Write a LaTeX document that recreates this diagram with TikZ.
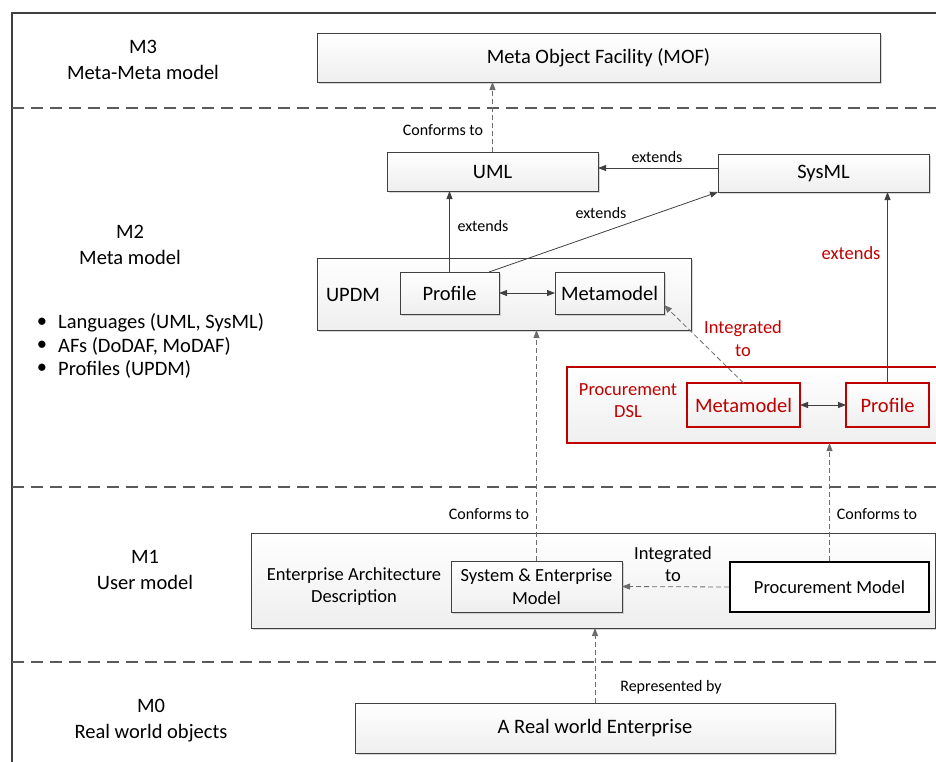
\documentclass[tikz,border=0pt]{standalone}
\usepackage{fontspec}
\setmainfont{Carlito}
\usetikzlibrary{arrows.meta,shadows}
\definecolor{lin}{HTML}{404040}
\definecolor{dred}{HTML}{C00000}
\definecolor{sep}{HTML}{5A5A5A}
\tikzset{
  big/.style={font=\fontsize{20.5}{26}\selectfont},
  mid/.style={font=\fontsize{18.5}{22.5}\selectfont},
  small/.style={font=\fontsize{16}{19}\selectfont},
  shade/.style={top color=white, bottom color=gray!13},
  box/.style={draw=lin, line width=0.9pt, shade, inner sep=0pt, outer sep=0pt,
    drop shadow={shadow xshift=1.6pt, shadow yshift=-1.6pt, fill=gray!70, opacity=0.45}},
  redbox/.style={draw=dred, line width=1.8pt, shade, inner sep=0pt, outer sep=0pt, text=dred},
  arr/.style={draw=lin, line width=0.8pt, -{Triangle[length=8pt,width=6pt]}},
  both/.style={draw=lin, line width=0.8pt, {Triangle[length=8pt,width=6pt]}-{Triangle[length=8pt,width=6pt]}},
  darr/.style={draw=gray!85!black, line width=0.8pt, dash pattern=on 5pt off 3pt, -{Triangle[length=8pt,width=6pt]}},
  layersep/.style={draw=sep, line width=1.8pt, dash pattern=on 12pt off 7pt}
}
\begin{document}
\begin{tikzpicture}[x=1pt,y=-1pt]
\useasboundingbox (0,0) rectangle (936,761);
\clip (0,0) rectangle (936,761);
% frame
\draw[lin, line width=1.5pt] (12,765) -- (12,13) -- (940,13);
% layer separators
\draw[layersep] (12,108) -- (940,108);
\draw[layersep] (12,487) -- (940,487);
\draw[layersep] (12,662) -- (940,662);
% layer labels
\node[big, align=center] (l3) at (143,60) {M3\\Meta-Meta model};
\node[big, align=center] (l2) at (130,245) {M2\\Meta model};
\node[big, align=center] (l1) at (145,570) {M1\\User model};
\node[big, align=center] (l0) at (151,721) {M0\\Real world objects};
% bullets
\node[big] (b1) at (42,323) {•};
\node[big] (b2) at (42,346) {•};
\node[big] (b3) at (42,369) {•};
\node[big, anchor=west, inner sep=0pt] (t1) at (58,323) {Languages (UML, SysML)};
\node[big, anchor=west, inner sep=0pt] (t2) at (58,346) {AFs (DoDAF, MoDAF)};
\node[big, anchor=west, inner sep=0pt] (t3) at (58,369) {Profiles (UPDM)};
% M3
\node[box, big, minimum width=563pt, minimum height=49pt] (mof) at (598.5,57.5) {Meta Object Facility (MOF)};
% M2
\node[box, big, minimum width=211pt, minimum height=39pt] (uml) at (492.5,171.5) {UML};
\node[box, big, minimum width=211pt, minimum height=38pt] (sysml) at (823.5,173) {SysML};
\node[box, minimum width=374pt, minimum height=72pt] (updm) at (504,294) {};
\node[big] (updmlab) at (353,295) {UPDM};
\node[box, big, minimum width=99pt, minimum height=42pt] (prof) at (449.5,293) {Profile};
\node[box, big, minimum width=109pt, minimum height=42pt] (meta) at (609.5,293) {Metamodel};
\node[redbox, line width=2.8pt, minimum width=380pt, minimum height=76pt] (dsl) at (757,405) {};
\node[mid, align=center, text=dred] (dsllab) at (628,400.5) {Procurement\\DSL};
\node[redbox, big, minimum width=113pt, minimum height=44pt] (rmeta) at (743.5,405) {Metamodel};
\node[redbox, big, minimum width=83pt, minimum height=44pt] (rprof) at (887.5,405) {Profile};
% M1
\node[box, minimum width=684pt, minimum height=95pt] (m1) at (593,580.5) {};
\node[mid, align=center] (ead) at (354,586.5) {Enterprise Architecture\\Description};
\node[box, mid, align=center, minimum width=171pt, minimum height=51pt] (se) at (536.5,586.5) {System \& Enterprise\\Model};
\node[draw=black, line width=1.8pt, fill=white, mid, inner sep=0pt, minimum width=199pt, minimum height=50pt] (pm) at (829.5,587) {Procurement Model};
% M0
\node[box, big, minimum width=480pt, minimum height=50pt] (rw) at (595,728) {A Real world Enterprise};
% connectors
\draw[darr] (uml.north) -- (uml.north |- mof.south);
\node[small] (c1) at (443,130) {Conforms to};
\coordinate (sw) at ([yshift=5pt]sysml.west);
\draw[arr] (sw) -- (sw -| uml.east);
\node[small] (e1) at (657,157) {extends};
\draw[arr] (prof.north) -- (prof.north |- uml.south);
\node[small] (e2) at (483,226) {extends};
\draw[arr] ([xshift=-10pt]prof.north east) -- (sysml.south west);
\node[small] (e3) at (601,213) {extends};
\draw[both] (prof.east) -- (meta.west);
\draw[darr] (rmeta.north) -- ([yshift=9pt]meta.south east);
\node[mid, align=center, text=dred] (i1) at (743,338.5) {Integrated\\to};
\draw[arr] (rprof.north) -- (rprof.north |- sysml.south);
\node[mid, text=dred] (e4) at (851,253) {extends};
\draw[both] (rmeta.east) -- (rprof.west);
\draw[darr] (se.north) -- (se.north |- updm.south);
\node[small] (c2) at (489,514) {Conforms to};
\draw[darr] (pm.north) -- (pm.north |- dsl.south);
\node[small] (c3) at (877,514) {Conforms to};
\draw[darr] (pm.west) -- (se.east);
\node[mid, align=center] (i2) at (673,564) {Integrated\\to};
\draw[darr] (rw.north) -- (rw.north |- m1.south);
\node[small] (r1) at (671,687) {Represented by};
\end{tikzpicture}
\end{document}
